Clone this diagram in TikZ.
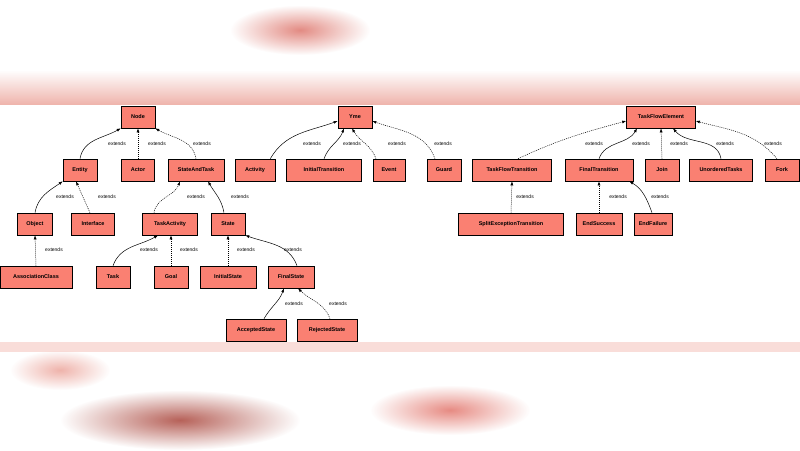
\documentclass[tikz,border=0pt]{standalone}
\usepackage{fontspec}
\setmainfont{Liberation Sans}
\usetikzlibrary{arrows.meta}
\definecolor{salmonc}{RGB}{250,128,114}
\definecolor{bandc}{RGB}{240,170,160}
\definecolor{topc}{RGB}{235,160,150}
\definecolor{bl1}{RGB}{220,110,100}
\definecolor{bl2}{RGB}{170,70,60}
\definecolor{bl3}{RGB}{225,110,100}
\definecolor{bl4}{RGB}{235,160,150}
\begin{document}
\begin{tikzpicture}[x=1pt,y=-1pt,
  cls/.style={draw=black,fill=salmonc,font=\fontsize{5.5}{6}\selectfont\bfseries,minimum height=22pt,inner sep=1pt,line width=0.6pt},
  ext/.style={-{Latex[length=4pt,width=3pt]},line width=0.5pt},
  imp/.style={-{Latex[length=4pt,width=3pt]},line width=0.5pt,dash pattern=on 1pt off 1pt},
  lab/.style={font=\fontsize{5}{6}\selectfont,inner sep=1pt}]
\useasboundingbox (0,0) rectangle (800,450);
\fill[white] (0,0) rectangle (800,450);
\shade[inner color=bl1,outer color=white,opacity=0.8] (300,30) ellipse (70 and 25);
\shade[top color=white,bottom color=topc,opacity=0.8] (0,70) rectangle (800,105);
\shade[inner color=bl2,outer color=white,opacity=0.85] (180,420) ellipse (120 and 30);
\shade[inner color=bl3,outer color=white,opacity=0.8] (450,410) ellipse (80 and 25);
\shade[inner color=bl4,outer color=white,opacity=0.8] (60,370) ellipse (50 and 20);
\fill[bandc,opacity=0.4] (0,342) rectangle (800,352);
\fill[white] (0,105) rectangle (800,342);
% row 0
\node[cls,minimum width=34pt] (node) at (138,117) {Node};
\node[cls,minimum width=34pt] (yme) at (355,117) {Yme};
\node[cls,minimum width=69pt] (tfe) at (661,117) {TaskFlowElement};
% row 1
\node[cls,minimum width=34pt] (entity) at (80,170) {Entity};
\node[cls,minimum width=33pt] (actor) at (138,170) {Actor};
\node[cls,minimum width=56pt] (sat) at (196,170) {StateAndTask};
\node[cls,minimum width=40pt] (activity) at (255,170) {Activity};
\node[cls,minimum width=75pt] (it) at (324,170) {InitialTransition};
\node[cls,minimum width=32pt] (event) at (389,170) {Event};
\node[cls,minimum width=34pt] (guard) at (444,170) {Guard};
\node[cls,minimum width=79pt] (tft) at (512,170) {TaskFlowTransition};
\node[cls,minimum width=68pt] (ft) at (599,170) {FinalTransition};
\node[cls,minimum width=34pt] (join) at (662,170) {Join};
\node[cls,minimum width=63pt] (ut) at (721,170) {UnorderedTasks};
\node[cls,minimum width=34pt] (fork) at (782,170) {Fork};
% row 2
\node[cls,minimum width=35pt] (object) at (35,224) {Object};
\node[cls,minimum width=43pt] (interface) at (93,224) {Interface};
\node[cls,minimum width=55pt] (ta) at (170,224) {TaskActivity};
\node[cls,minimum width=34pt] (state) at (228,224) {State};
\node[cls,minimum width=105pt] (set) at (511,224) {SplitExceptionTransition};
\node[cls,minimum width=46pt] (es) at (599,224) {EndSuccess};
\node[cls,minimum width=38pt] (ef) at (653,224) {EndFailure};
% row 3
\node[cls,minimum width=72pt] (ac) at (36,277) {AssociationClass};
\node[cls,minimum width=34pt] (task) at (113,277) {Task};
\node[cls,minimum width=34pt] (goal) at (171,277) {Goal};
\node[cls,minimum width=56pt] (is) at (228,277) {InitialState};
\node[cls,minimum width=46pt] (fs) at (291,277) {FinalState};
% row 4
\node[cls,minimum width=60pt] (as) at (256,330) {AcceptedState};
\node[cls,minimum width=60pt] (rs) at (327,330) {RejectedState};
% edges
\draw[ext] (entity.north) to[out=80,in=-150] (node.south west);
\draw[imp] (actor.north) -- (node.south);
\draw[imp] (sat.north) to[out=100,in=-30] (node.south east);
\draw[ext] (object.north) to[out=80,in=-145] (entity.south west);
\draw[imp] ([xshift=-3pt]interface.north) -- ([xshift=-4pt]entity.south);
\draw[imp] ([xshift=-16pt]ta.north) to[out=80,in=-110] ([xshift=-16pt]sat.south);
\draw[ext] ([xshift=-4pt]state.north) to[out=100,in=-60] ([xshift=12pt]sat.south);
\draw[imp] (ac.north) -- (object.south);
\draw[ext] (task.north) to[out=70,in=-150] ([xshift=-12pt]ta.south);
\draw[imp] (goal.north) -- ([xshift=1pt]ta.south);
\draw[imp] (is.north) -- (state.south);
\draw[ext] ([xshift=6pt]fs.north) to[out=110,in=-20] (state.south east);
\draw[ext] ([xshift=8pt]as.north) to[out=60,in=-110] ([xshift=-7pt]fs.south);
\draw[imp] ([xshift=3pt]rs.north) to[out=110,in=-45] ([xshift=7pt]fs.south);
\draw[ext] ([xshift=-5pt]activity.north east) to[out=60,in=-160] ([yshift=-4pt]yme.west);
\draw[ext] (it.north) to[out=70,in=-110] ([xshift=-11pt]yme.south);
\draw[imp] ([xshift=-13pt]event.north) to[out=110,in=-60] ([xshift=-3pt]yme.south);
\draw[imp] ([xshift=-9pt]guard.north) to[out=110,in=-20] ([yshift=-4pt]yme.east);
\draw[imp] ([xshift=6pt]tft.north) to[out=25,in=-165] ([yshift=-4pt]tfe.west);
\draw[ext] (ft.north) to[out=70,in=-120] ([xshift=-24pt]tfe.south);
\draw[imp] (join.north) -- (tfe.south);
\draw[ext] (ut.north) to[out=100,in=-50] ([xshift=12pt]tfe.south);
\draw[imp] ([xshift=-5pt]fork.north) to[out=130,in=-15] ([yshift=-4pt]tfe.east);
\draw[imp] (set.north) -- (tft.south);
\draw[imp] (es.north) -- (ft.south);
\draw[ext] ([xshift=-1pt]ef.north) to[out=110,in=-30] ([xshift=-4pt]ft.south east);
% labels
\foreach \x in {117,157,202,312,352,397,443,594,641,679,725,773} \node[lab] at (\x,144) {extends};
\foreach \x in {65,107,196,240,525,618,660} \node[lab] at (\x,197) {extends};
\foreach \x in {54,149,189,246,293} \node[lab] at (\x,250) {extends};
\foreach \x in {294,338} \node[lab] at (\x,304) {extends};
\end{tikzpicture}
\end{document}
